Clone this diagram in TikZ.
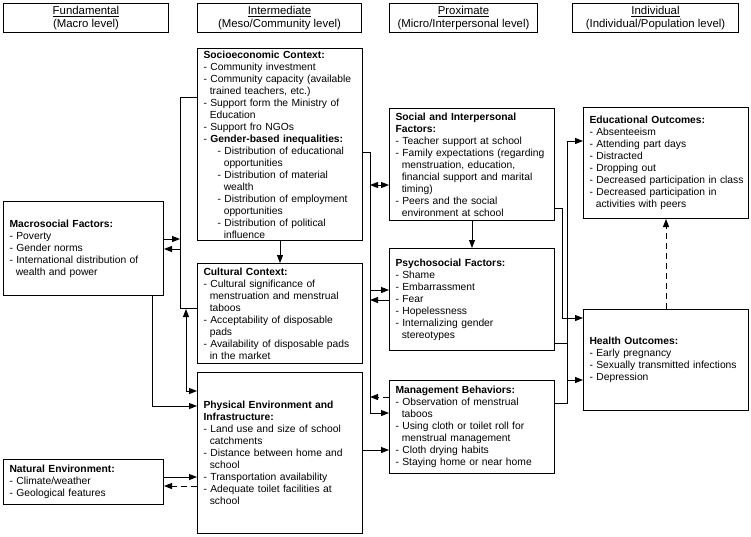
\documentclass[tikz,border=0pt]{standalone}
\usepackage{fontspec}
\setmainfont{Liberation Sans}
\usetikzlibrary{arrows.meta}
\newcommand\ci{\hspace*{0.611em}}
\newcommand\si{\hspace*{1.36em}}
\newcommand\sci{\hspace*{1.97em}}
\begin{document}
\begin{tikzpicture}[x=1pt,y=-1pt,
  box/.style={draw, line width=1pt, align=left, inner xsep=6pt, inner ysep=0pt, anchor=north west, font=\fontsize{10.3}{12}\selectfont},
  hdr/.style={draw, line width=1pt, align=center, anchor=north west, inner sep=0pt, font=\fontsize{11.4}{13.2}\selectfont},
  ln/.style={line width=1pt},
  arr/.style={line width=1pt, -{Triangle[length=8pt,width=6pt]}},
  darr/.style={line width=1pt, {Triangle[length=8pt,width=6pt]}-{Triangle[length=8pt,width=6pt]}},
  dsh/.style={dash pattern=on 6pt off 4pt}
]
\useasboundingbox (0,0) rectangle (751,536);
% headers
\node[hdr, minimum width=165, minimum height=29] (h1) at (3,3) {\underline{Fundamental}\\(Macro level)};
\node[hdr, minimum width=164, minimum height=29] (h2) at (197,3) {\underline{Intermediate}\\(Meso/Community level)};
\node[hdr, minimum width=148, minimum height=29] (h3) at (389,3) {\underline{Proximate}\\(Micro/Interpersonal level)};
\node[hdr, minimum width=166, minimum height=29] (h4) at (572,3) {\underline{Individual}\\(Individual/Population level)};
% boxes
\node[box, text width=148, minimum height=94] (macro) at (3,201) {\textbf{Macrosocial Factors:}\\
- Poverty\\
- Gender norms\\
- International distribution of\\
\ci wealth and power};
\node[box, text width=148, minimum height=45] (nat) at (3,459) {\textbf{Natural Environment:}\\
- Climate/weather\\
- Geological features};
\node[box, text width=153, minimum height=192] (socio) at (197,48) {\textbf{Socioeconomic Context:}\\
- Community investment\\
- Community capacity (available\\
\ci trained teachers, etc.)\\
- Support form the Ministry of\\
\ci Education\\
- Support fro NGOs\\
- \textbf{Gender-based inequalities:}\\
\si- Distribution of educational\\
\sci opportunities\\
\si- Distribution of material\\
\sci wealth\\
\si- Distribution of employment\\
\sci opportunities\\
\si- Distribution of political\\
\sci influence};
\node[box, text width=153, minimum height=100] (cult) at (197,263) {\textbf{Cultural Context:}\\
- Cultural significance of\\
\ci menstruation and menstrual\\
\ci taboos\\
- Acceptability of disposable\\
\ci pads\\
- \mbox{Availability of disposable pads}\\
\ci in the market};
\node[box, text width=153, minimum height=161] (phys) at (197,372) {\textbf{Physical Environment and}\\
\textbf{Infrastructure:}\\
- Land use and size of school\\
\ci catchments\\
- Distance between home and\\
\ci school\\
- Transportation availability\\
- Adequate toilet facilities at\\
\ci school};
\node[box, text width=153, minimum height=112] (social) at (389,108) {\textbf{Social and Interpersonal}\\
\textbf{Factors:}\\
- Teacher support at school\\
- \mbox{Family expectations (regarding}\\
\ci menstruation, education,\\
\ci financial support and marital\\
\ci timing)\\
- Peers and the social\\
\ci environment at school};
\node[box, text width=153, minimum height=102] (psych) at (389,248) {\textbf{Psychosocial Factors:}\\
- Shame\\
- Embarrassment\\
- Fear\\
- Hopelessness\\
- Internalizing gender\\
\ci stereotypes};
\node[box, text width=153, minimum height=93] (mgmt) at (389,380) {\textbf{Management Behaviors:}\\
- Observation of menstrual\\
\ci taboos\\
- Using cloth or toilet roll for\\
\ci menstrual management\\
- Cloth drying habits\\
- Staying home or near home};
\node[box, text width=153, minimum height=111] (edu) at (583,107) {\textbf{Educational Outcomes:}\\
- Absenteeism\\
- Attending part days\\
- Distracted\\
- Dropping out\\
\mbox{- Decreased participation in class}\\
- Decreased participation in\\
\ci activities with peers};
\node[box, text width=153, minimum height=101] (health) at (583,309) {\textbf{Health Outcomes:}\\
- Early pregnancy\\
- \mbox{Sexually transmitted infections}\\
- Depression};
% bend points
\coordinate (bt) at (180,97);
\coordinate (bb) at (180,308);
\coordinate (pc) at (186,309);
\coordinate (md) at (152,406);
\coordinate (b1t) at (370,152);
\coordinate (b1b) at (370,413);
\coordinate (s1) at (562,208);
\coordinate (s2) at (562,318);
\coordinate (b2t) at (567,141);
\coordinate (b2b) at (567,403);
% connectors
\draw[ln] (bt -| socio.west) -- (bt) -- (bb) -- (bb -| cult.west);
\draw[arr] (macro.east |- 0,239) -- (bt |- 0,239);
\draw[arr] (bt |- 0,249) -- (macro.east |- 0,249);
\draw[darr] (pc) |- (phys.west |- 0,391);
\draw[arr] (macro.south -| md) |- (phys.west |- md);
\draw[arr] (socio.south) -- (cult.north);
\draw[arr] (socio.east |- b1t) -- (b1t) -- (b1b) -- (mgmt.west |- b1b);
\draw[darr] (b1t |- 0,185) -- (social.west |- 0,185);
\draw[arr] (b1t |- 0,290) -- (psych.west |- 0,290);
\draw[arr] (psych.west |- 0,300) -- (b1t |- 0,300);
\draw[arr,dsh] (mgmt.west |- 0,397) -- (b1t |- 0,397);
\draw[arr] (phys.east |- 0,450) -- (mgmt.west |- 0,450);
\draw[arr] (social.south) -- (psych.north);
\draw[arr] (social.east |- s1) -- (s1) -- (s2) -- (health.west |- s2);
\draw[arr] (mgmt.east |- b2b) -- (b2b) -- (b2t) -- (edu.west |- b2t);
\draw[ln] (psych.east |- 0,343) -- (b2t |- 0,343);
\draw[arr] (b2t |- 0,380) -- (health.west |- 0,380);
\draw[arr,dsh] (health.north) -- (edu.south);
\draw[arr] (nat.east |- 0,477) -- (phys.west |- 0,477);
\draw[arr,dsh] (phys.west |- 0,486) -- (nat.east |- 0,486);
\end{tikzpicture}
\end{document}
